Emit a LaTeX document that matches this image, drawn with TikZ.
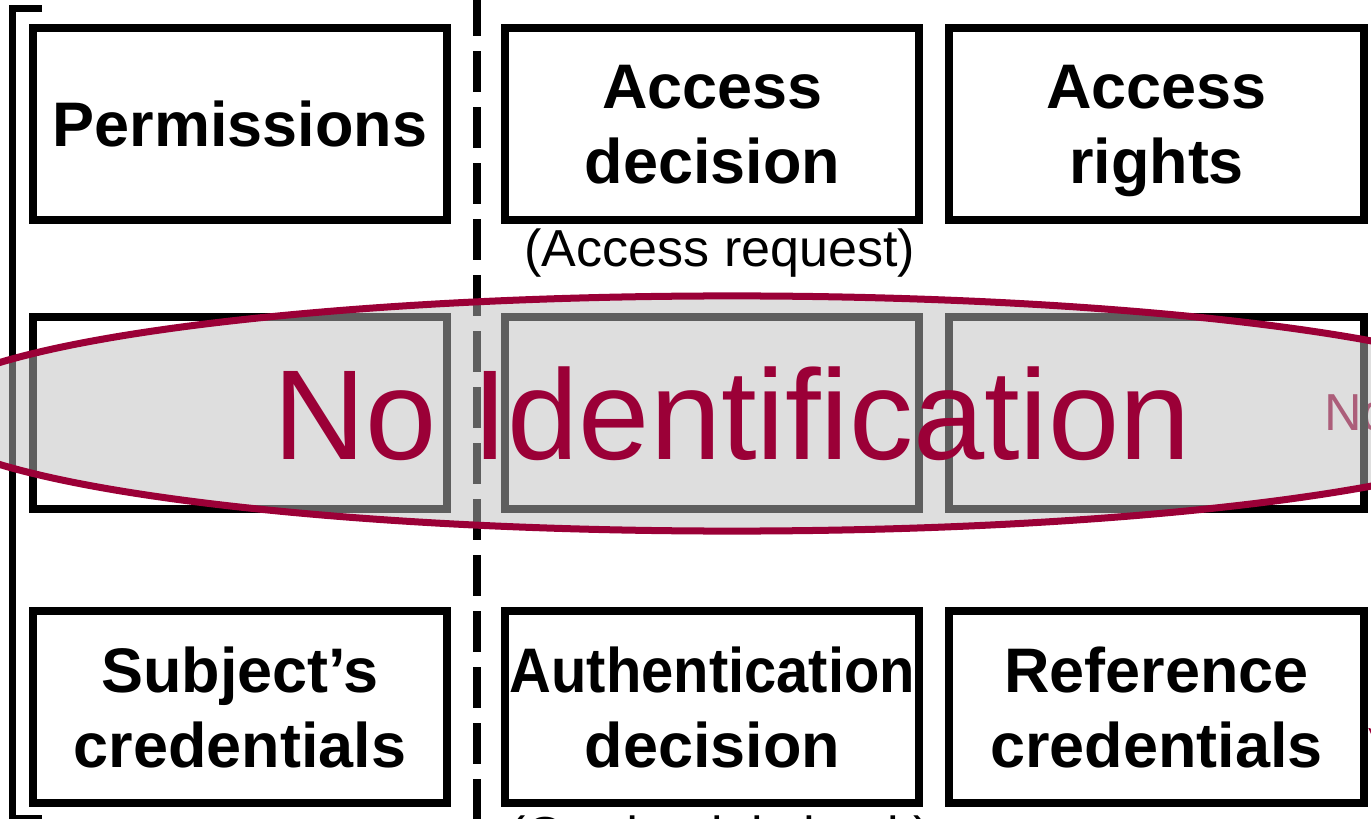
\documentclass[tikz,border=0pt]{standalone}
\usepackage{fontspec}
\setmainfont{Liberation Sans}
\usetikzlibrary{shapes.geometric,arrows.meta,positioning}
\definecolor{idred}{RGB}{155,0,55}

\begin{document}
\begin{tikzpicture}[x=0.01cm, y=-0.01cm,
    box/.style = {rectangle, draw=black, line width=0.08cm, minimum width=4.14cm, minimum height=1.92cm, inner sep=0pt, text depth=0pt, align=center, font=\fontsize{17.9pt}{21.3pt}\selectfont\bfseries},
    note/.style = {inner sep=0pt, outer sep=0pt, font=\fontsize{14.8pt}{17pt}\selectfont},
    veil/.style = {ellipse, draw=idred, line width=0.07cm, fill=black!26, fill opacity=0.5, text opacity=1, text=idred, minimum width=16.24cm, minimum height=2.35cm, font=\fontsize{36.4pt}{40pt}\selectfont},
    divider/.style = {line width=0.08cm, dash pattern=on 0.41cm off 0.15cm},
    bracket/.style = {line width=0.075cm},
    redarrow/.style = {idred, line width=0.07cm, -{Triangle[length=0.3cm,width=0.25cm]}}
]
\useasboundingbox (0,0) rectangle (1371,819);
\clip (0,0) rectangle (1371,819);

% Nodes
\node (nextno) [note, anchor=base west, text=idred] at (1324,430) {No};

\node (perm) [box] at (240,124) {Permissions};
\node (accd) [box, right=0.5cm of perm] {Access\\decision};
\node (accr) [box, right=0.22cm of accd] {Access\\rights};

\node (idl) [box, below=0.89cm of perm] {};
\node (idm) [box, below=0.89cm of accd] {};
\node (idr) [box, below=0.89cm of accr] {};

\node (subc) [box, below=0.94cm of idl] {Subject’s\\credentials};
\node (authd) [box, below=0.94cm of idm] {\scalebox{0.92}[1]{Authentication}\\decision};
\node (refc) [box, below=0.94cm of idr] {Reference\\credentials};

\node (accreq) [note, below=0.05cm of accd, xshift=0.075cm] {(Access request)};
\node (credchk) [note, below=0.08cm of authd, xshift=0.075cm] {(Credential check)};

\coordinate (divtop) at (476.5,-5);
\coordinate (divbot) at (476.5,830);
\coordinate (brtop) at (42,8.7);
\coordinate (brbot) at (42,819);
\coordinate (offr) at (1440,790);

% Edges
\draw [divider] (divtop) -- (divbot);
\draw [bracket] (brtop) -- ++(-29.5,0) |- (brbot);

\node (noid) [veil] at (732,413.5) {No Identification};
\draw [redarrow] (offr) -- ([yshift=-0.2cm]refc.east);

\end{tikzpicture}
\end{document}
